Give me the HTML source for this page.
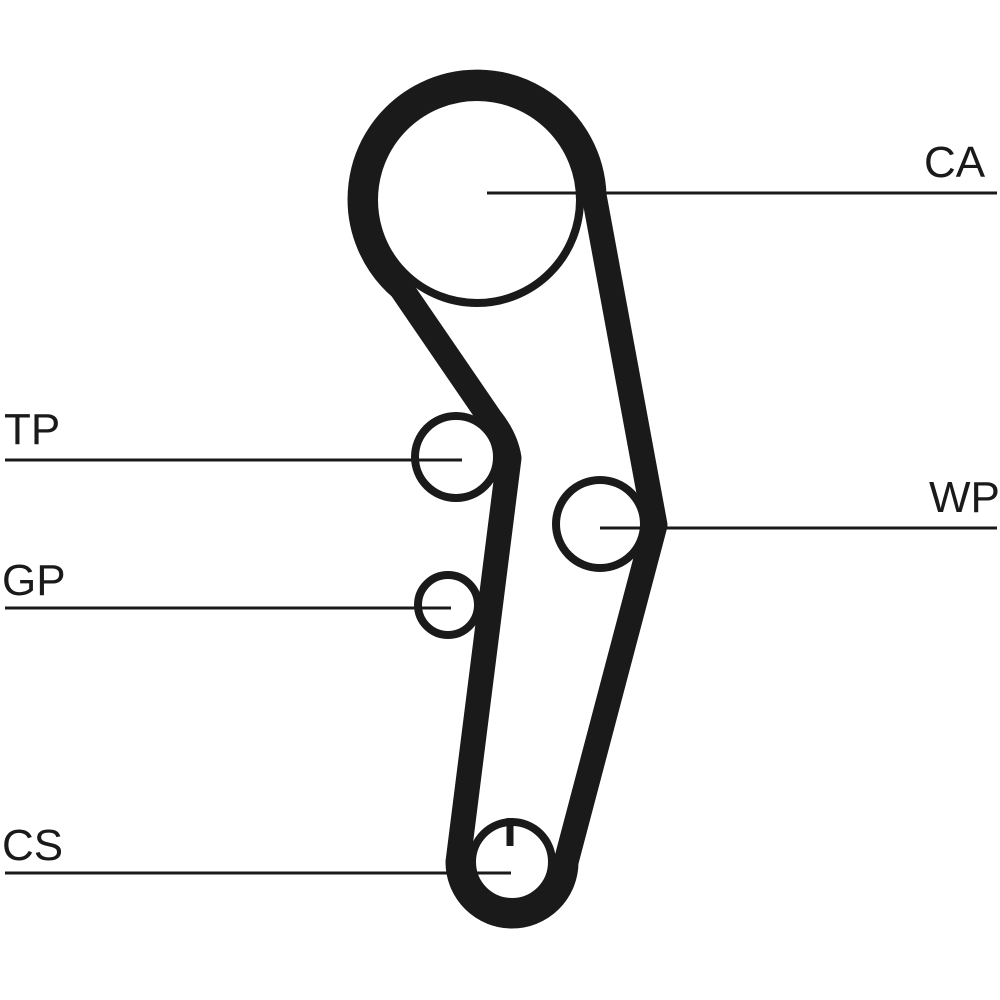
<!DOCTYPE html>
<html><head><style>body{margin:0;background:#fff}svg{display:block}</style></head>
<body>
<svg width="1000" height="1000" viewBox="0 0 1000 1000" xmlns="http://www.w3.org/2000/svg">
<g fill="none" stroke="#1a1a1a">
<path d="M401,288 A117,117 0 1 1 594,195 L655,525 L566,862 A54,54 0 0 1 458,862 L509,458 Q506,438 490,418 Z" stroke-width="25" stroke-linejoin="round"/>
<circle cx="477" cy="200" r="103" stroke-width="8"/>
<circle cx="456" cy="457" r="41" stroke-width="8"/>
<circle cx="448" cy="605" r="30" stroke-width="8"/>
<circle cx="600" cy="524" r="44" stroke-width="8"/>
<circle cx="512" cy="862" r="40" stroke-width="8"/>
<line x1="510" y1="818" x2="510" y2="846" stroke-width="7"/>
<g stroke-width="3">
<line x1="487" y1="193" x2="997" y2="193"/>
<line x1="5" y1="460" x2="462" y2="460"/>
<line x1="5" y1="608" x2="451" y2="608"/>
<line x1="5" y1="873" x2="511" y2="873"/>
<line x1="600" y1="528" x2="997" y2="528"/>
</g>
</g>
<g font-family="Liberation Sans, sans-serif" font-size="44" fill="#1a1a1a">
<text x="924" y="177">CA</text>
<text x="4" y="444">TP</text>
<text x="2" y="595">GP</text>
<text x="2" y="860">CS</text>
<text x="929" y="512">WP</text>
</g>
</svg>
</body></html>
